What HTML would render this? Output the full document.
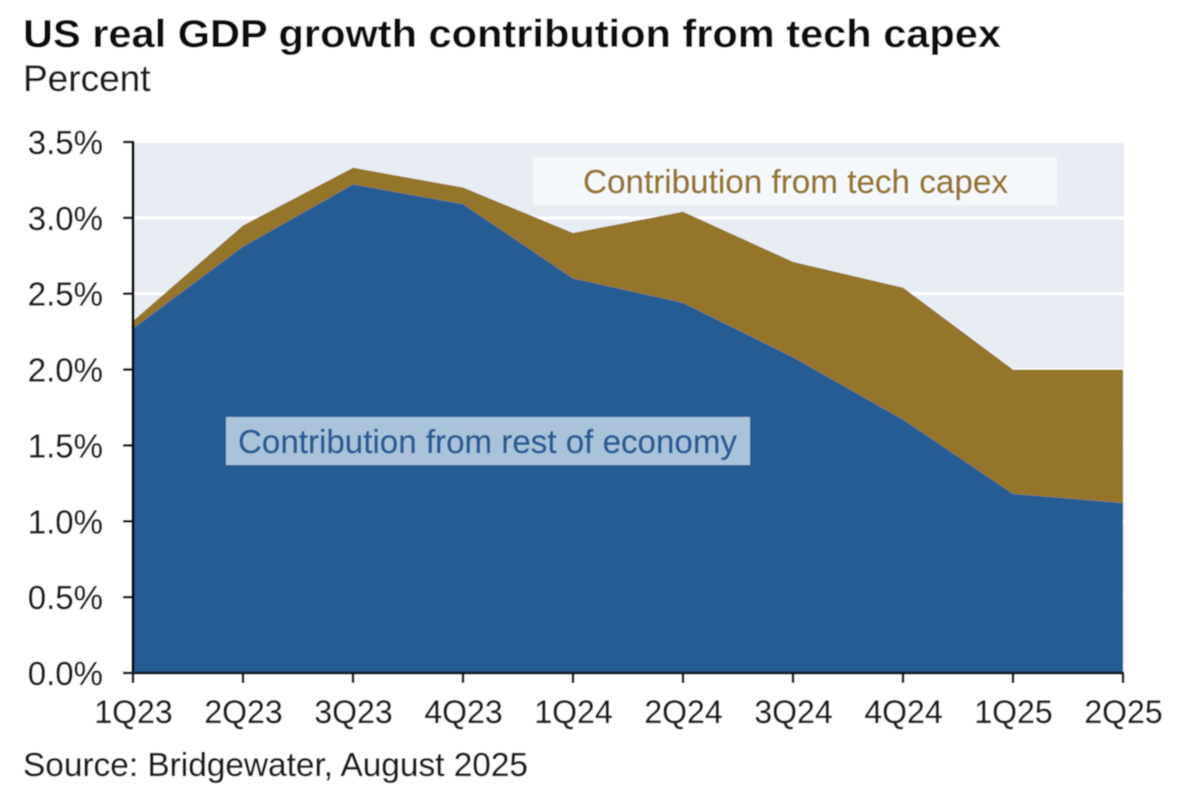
<!DOCTYPE html>
<html lang="en">
<head>
<meta charset="utf-8">
<title>US real GDP growth contribution from tech capex</title>
<style>
html,body{margin:0;padding:0;background:#fff;}
body{width:1200px;height:801px;overflow:hidden;}
svg{display:block;font-family:"Liberation Sans",Arial,sans-serif;}
</style>
</head>
<body>
<svg id="chart" width="1200" height="801" viewBox="0 0 1200 801" xmlns="http://www.w3.org/2000/svg">
  <defs><filter id="soft" x="-2%" y="-2%" width="104%" height="104%"><feGaussianBlur stdDeviation="0.55"/></filter></defs>
  <g id="root" filter="url(#soft)">
    <rect x="0" y="0" width="1200" height="801" fill="#ffffff"/>
    <text x="23" y="47" font-size="38.5" font-weight="700" fill="#111111" textLength="978" lengthAdjust="spacingAndGlyphs">US real GDP growth contribution from tech capex</text>
    <text x="23" y="91" font-size="37" fill="#1c1c1c" stroke="#1c1c1c" stroke-width="0.3">Percent</text>
    <rect x="134" y="143" width="990" height="530" fill="#e7edf3"/>
    <g id="grid"></g>
    <rect x="533" y="157" width="524" height="48" fill="#f5f8fb"/>
    <g id="areas"></g>
    <rect x="226" y="417" width="524" height="48" fill="#a9c3da"/>
    <text x="583" y="193" font-size="33" fill="#94752a" stroke="#94752a" stroke-width="0.3" textLength="425" lengthAdjust="spacingAndGlyphs">Contribution from tech capex</text>
    <text x="238" y="453" font-size="33" fill="#285b94" stroke="#285b94" stroke-width="0.3" textLength="499" lengthAdjust="spacingAndGlyphs">Contribution from rest of economy</text>
    <g id="axes"></g>
    <text x="23" y="776" font-size="33" fill="#1c1c1c" stroke="#1c1c1c" stroke-width="0.3" textLength="505" lengthAdjust="spacingAndGlyphs">Source: Bridgewater, August 2025</text>
  </g>
</svg>
<script>
const quarters = ["1Q23","2Q23","3Q23","4Q23","1Q24","2Q24","3Q24","4Q24","1Q25","2Q25"];
const restOfEconomy = [2.27,2.81,3.22,3.09,2.60,2.44,2.08,1.67,1.18,1.12];
const techCapex = [0.05,0.14,0.11,0.11,0.30,0.60,0.63,0.87,0.82,0.88];
const yTicks = [0,0.5,1,1.5,2,2.5,3,3.5];
const yTickLabels = ["0.0%","0.5%","1.0%","1.5%","2.0%","2.5%","3.0%","3.5%"];

const NS = 'http://www.w3.org/2000/svg';
const xLeft = 133, xRight = 1123, yBase = 673, yTop = 142, yMax = 3.5;
function xScale(i){ return xLeft + i * (xRight - xLeft) / (quarters.length - 1); }
function yScale(v){ return yBase - v * (yBase - yTop) / yMax; }
function make(tag, attrs, parent){
  const el = document.createElementNS(NS, tag);
  for (const k in attrs) el.setAttribute(k, attrs[k]);
  parent.appendChild(el);
  return el;
}
const grid = document.getElementById('grid');
const areas = document.getElementById('areas');
const axes = document.getElementById('axes');

yTicks.forEach(function(v){
  if (v === 0 || v === yMax) return;
  const g = make('line', {x1:xLeft, x2:xRight + 1, y1:yScale(v), y2:yScale(v), stroke:'#ffffff', 'stroke-width':3}, grid);
  
  
});

const totals = restOfEconomy.map(function(v, i){ return v + techCapex[i]; });
const techTop = totals.map(function(v, i){ return xScale(i) + ',' + yScale(v); });
const techBottom = restOfEconomy.map(function(v, i){ return xScale(i) + ',' + yScale(v); }).reverse();
const techArea = make('polygon', {points: techTop.concat(techBottom).join(' '), fill:'#94752a'}, areas);



const restPts = restOfEconomy.map(function(v, i){ return xScale(i) + ',' + yScale(v); });
restPts.push(xScale(quarters.length - 1) + ',' + yScale(0));
restPts.push(xScale(0) + ',' + yScale(0));
const restArea = make('polygon', {points: restPts.join(' '), fill:'#285b94'}, areas);



const yAxis = make('line', {x1:xLeft, x2:xLeft, y1:yTop - 1, y2:yBase + 1, stroke:'#111111', 'stroke-width':3}, axes);


const xAxis = make('line', {x1:xLeft, x2:xRight + 1, y1:yBase, y2:yBase, stroke:'#14202f', 'stroke-width':3}, axes);



yTicks.forEach(function(v, i){
  const t = make('line', {x1:xLeft - 10, x2:xLeft, y1:yScale(v), y2:yScale(v), stroke:'#111111', 'stroke-width':2.5}, axes);
  
  
  const l = make('text', {x:103, y:yScale(v) + 12, 'text-anchor':'end', 'font-size':33, fill:'#1c1c1c', stroke:'#1c1c1c', 'stroke-width':0.3}, axes);
  
  
  l.textContent = yTickLabels[i];
});

quarters.forEach(function(q, i){
  const t = make('line', {x1:xScale(i), x2:xScale(i), y1:yBase, y2:yBase + 10, stroke:'#111111', 'stroke-width':2.5}, axes);
  
  
  const l = make('text', {x:xScale(i) + 0.5, y:723, 'text-anchor':'middle', 'font-size':32, fill:'#1c1c1c', stroke:'#1c1c1c', 'stroke-width':0.3}, axes);
  
  
  l.textContent = q;
});
</script>
</body>
</html>
